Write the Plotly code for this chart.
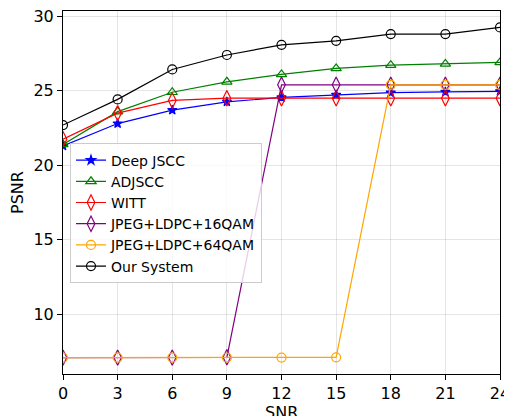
import plotly.graph_objects as go

snr = [0, 3, 6, 9, 12, 15, 18, 21, 24]
deep_jscc = [21.3, 22.8, 23.7, 24.26, 24.55, 24.72, 24.87, 24.92, 24.96]
adjscc = [21.4, 23.6, 24.9, 25.6, 26.1, 26.5, 26.72, 26.8, 26.9]
witt = [21.75, 23.5, 24.35, 24.5, 24.5, 24.5, 24.5, 24.5, 24.5]
qam16 = [7.1, 7.1, 7.1, 7.12, 25.4, 25.4, 25.4, 25.4, 25.4]
qam64 = [7.1, 7.1, 7.1, 7.1, 7.1, 7.12, 25.4, 25.4, 25.4]
ours = [22.7, 24.42, 26.43, 27.4, 28.08, 28.35, 28.8, 28.8, 29.25]

names = ["Deep JSCC", "ADJSCC", "WITT", "JPEG+LDPC+16QAM", "JPEG+LDPC+64QAM", "Our System"]
series = [deep_jscc, adjscc, witt, qam16, qam64, ours]
colors = ["blue", "green", "red", "purple", "orange", "black"]
symbols = ["star", "triangle-up-open", "diamond-tall-open", "diamond-tall-open", "circle-open", "circle-open"]
sizes = [7, 9, 11, 11, 9, 9]

fig = go.Figure()
for n, s, c, m, sz in zip(names, series, colors, symbols, sizes):
    fig.add_trace(go.Scatter(
        x=snr, y=s, name=n, mode="lines+markers",
        line=dict(color=c, width=1.2),
        marker=dict(symbol=m, size=sz, color=c, line=dict(color=c, width=1.2)),
    ))

axis_common = dict(
    showline=True, linecolor="black", linewidth=1, mirror=True,
    ticks="outside", ticklen=5, tickcolor="black", tickwidth=1,
    showgrid=True, gridcolor="rgba(0,0,0,0.1)", gridwidth=1,
    zeroline=False, tickfont=dict(size=16, color="black"), automargin=False,
    ticklabeloverflow="allow",
)
fig.update_xaxes(range=[0, 24], tickvals=snr, **axis_common)
fig.update_yaxes(range=[6.0, 30.35], tickvals=[10, 15, 20, 25, 30], title=dict(text="PSNR", font=dict(size=16, color="black"), standoff=8), **axis_common)

fig.add_annotation(text="SNR", xref="paper", yref="paper", x=0.5, y=0,
                   xanchor="center", yanchor="top", yshift=-27, showarrow=False,
                   font=dict(size=16, color="black"))

# the page body adds an 8px offset, so the figure is sized to fill 512x416 from there
fig.update_layout(
    width=504, height=408,
    margin=dict(l=55, r=12, t=3, b=42),
    plot_bgcolor="white", paper_bgcolor="white",
    font=dict(family="DejaVu Sans", color="black"),
    legend=dict(
        x=0.016, y=0.635, xanchor="left", yanchor="top",
        bgcolor="rgba(255,255,255,0.8)", bordercolor="#cccccc", borderwidth=1,
        font=dict(size=14), itemwidth=30, tracegroupgap=0,
    ),
    showlegend=True,
)
fig.write_html("out.html")
